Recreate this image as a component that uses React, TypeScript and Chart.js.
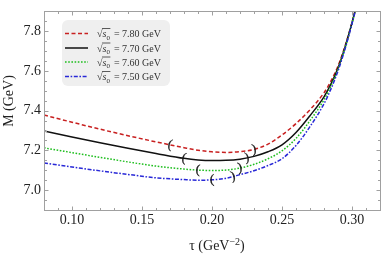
import React, { useEffect, useRef } from 'react';
import { Chart, registerables } from 'chart.js';

Chart.register(...registerables);

// ---- data ----
const tauValues = [0.08, 0.10, 0.12, 0.14, 0.16, 0.18, 0.19, 0.20, 0.21, 0.22, 0.23, 0.24, 0.25, 0.26, 0.27, 0.28, 0.285, 0.29, 0.295, 0.30, 0.305, 0.31];
const m780 = [7.378, 7.342, 7.307, 7.274, 7.243, 7.214, 7.201, 7.193, 7.190, 7.194, 7.205, 7.232, 7.278, 7.335, 7.405, 7.49, 7.55, 7.625, 7.725, 7.845, 7.98, 8.12];
const m770 = [7.298, 7.268, 7.239, 7.211, 7.185, 7.160, 7.152, 7.149, 7.150, 7.156, 7.170, 7.193, 7.228, 7.29, 7.375, 7.47, 7.535, 7.615, 7.72, 7.843, 7.98, 8.12];
const m760 = [7.213, 7.189, 7.165, 7.142, 7.121, 7.106, 7.101, 7.099, 7.101, 7.111, 7.13, 7.158, 7.198, 7.26, 7.35, 7.455, 7.525, 7.61, 7.715, 7.84, 7.978, 8.12];
const m750 = [7.137, 7.117, 7.097, 7.079, 7.062, 7.053, 7.050, 7.052, 7.060, 7.078, 7.098, 7.124, 7.158, 7.225, 7.32, 7.435, 7.51, 7.60, 7.71, 7.838, 7.976, 8.12];
const seriesLabels = ['7.80', '7.70', '7.60', '7.50'];
const windowLeft = [0.17, 0.18, 0.19, 0.20];
const windowRight = [0.23, 0.225, 0.22, 0.215];
const xTicks = [0.10, 0.15, 0.20, 0.25, 0.30];
const yTicks = [7.0, 7.2, 7.4, 7.6, 7.8];

// ---- styles ----
const FONT = "'Liberation Serif','Times New Roman','DejaVu Serif',serif";
const colors = ['rgb(200,32,32)', '#111111', 'rgb(30,190,30)', 'rgb(40,40,215)'];
const dashes = [[4, 2.5], [], [1.6, 1.6], [4, 1.6, 1.6, 1.6]];
const series = [m780, m770, m760, m750];

const decorPlugin = {
  id: 'decor',
  afterDatasetsDraw(chart: any) {
    const { ctx, scales } = chart;
    const x = scales.x, y = scales.y;
    ctx.save();
    ctx.fillStyle = '#1a1a1a';
    ctx.strokeStyle = '#1a1a1a';
    ctx.lineWidth = 0.3;
    ctx.font = `13px ${FONT}`;
    ctx.textAlign = 'center';
    ctx.textBaseline = 'middle';
    chart.data.datasets.forEach((ds: any, i: number) => {
      const pts = ds.data as { x: number; y: number }[];
      const marks: [number, string][] = [[windowLeft[i], '('], [windowRight[i], ')']];
      marks.forEach(([t, ch]) => {
        let k = 0;
        while (k < pts.length - 2 && pts[k + 1].x < t) k++;
        const p0 = pts[k], p1 = pts[k + 1];
        const f = (t - p0.x) / (p1.x - p0.x);
        const m = p0.y + f * (p1.y - p0.y);
        const px = x.getPixelForValue(t), py = y.getPixelForValue(m);
        const ang = Math.atan2(
          y.getPixelForValue(p1.y) - y.getPixelForValue(p0.y),
          x.getPixelForValue(p1.x) - x.getPixelForValue(p0.x)
        );
        ctx.save();
        ctx.translate(px, py);
        ctx.rotate(ang);
        ctx.fillText(ch, 0, 0);
        ctx.strokeText(ch, 0, 0);
        ctx.restore();
      });
    });
    ctx.restore();
  },
  afterDraw(chart: any) {
    const { ctx, chartArea: a, scales } = chart;
    const x = scales.x, y = scales.y;
    ctx.save();
    // frame
    const L = Math.round(a.left) + 0.5, R = Math.round(a.right) + 0.5;
    const T = Math.round(a.top) + 0.5, B = Math.round(a.bottom) + 0.5;
    ctx.strokeStyle = '#a0a0a0';
    ctx.lineWidth = 1;
    ctx.strokeRect(L, T, R - L, B - T);
    // ticks
    ctx.beginPath();
    for (let k = 8; k <= 32; k++) {
      const v = k / 100;
      const len = k % 5 === 0 ? 4 : 2.5;
      const px = Math.round(x.getPixelForValue(v)) + 0.5;
      ctx.moveTo(px, B); ctx.lineTo(px, B - len);
      ctx.moveTo(px, T); ctx.lineTo(px, T + len);
    }
    for (let k = 138; k <= 158; k++) {
      const v = k * 0.05;
      const len = k % 4 === 0 ? 4 : 2.5;
      const py = Math.round(y.getPixelForValue(v)) + 0.5;
      ctx.moveTo(L, py); ctx.lineTo(L + len, py);
      ctx.moveTo(R, py); ctx.lineTo(R - len, py);
    }
    ctx.stroke();

    // axis titles
    ctx.fillStyle = '#222';
    ctx.textBaseline = 'alphabetic';
    ctx.textAlign = 'left';
    const big = `14px ${FONT}`, small = `10px ${FONT}`;
    ctx.font = big;
    const w1 = ctx.measureText('τ (GeV').width;
    const w3 = ctx.measureText(')').width;
    ctx.font = small;
    const w2 = ctx.measureText('−2').width;
    const total = w1 + w2 + w3;
    let cx = 217 - total / 2;
    const base = 250;
    ctx.font = big; ctx.fillText('τ (GeV', cx, base); cx += w1;
    ctx.font = small; ctx.fillText('−2', cx, base - 5); cx += w2;
    ctx.font = big; ctx.fillText(')', cx, base);

    ctx.save();
    ctx.translate(9, 101);
    ctx.rotate(-Math.PI / 2);
    ctx.textAlign = 'center';
    ctx.textBaseline = 'middle';
    ctx.font = big;
    ctx.fillText('M (GeV)', 0, 0);
    ctx.restore();

    // legend
    ctx.fillStyle = '#efefef';
    ctx.beginPath();
    (ctx as any).roundRect(62, 20, 108, 66, 6);
    ctx.fill();
    const rows = [33.5, 48, 62, 76.5];
    rows.forEach((ry, i) => {
      ctx.save();
      ctx.strokeStyle = colors[i];
      ctx.lineWidth = 1.5;
      ctx.setLineDash(dashes[i]);
      ctx.beginPath();
      ctx.moveTo(65, ry); ctx.lineTo(88, ry);
      ctx.stroke();
      ctx.restore();

      ctx.fillStyle = '#333';
      const b = ry + 3.5;
      let tx = 97;
      ctx.font = `10px ${FONT}`;
      ctx.fillText('√', tx, b);
      const sw = ctx.measureText('√').width;
      tx += sw;
      const ox = tx - 0.5;
      ctx.font = `italic 10px ${FONT}`;
      ctx.fillText('s', tx, b);
      tx += ctx.measureText('s').width;
      ctx.font = `7px ${FONT}`;
      ctx.fillText('0', tx, b + 2.5);
      tx += ctx.measureText('0').width + 0.5;
      ctx.strokeStyle = '#333';
      ctx.lineWidth = 0.8;
      ctx.beginPath();
      ctx.moveTo(ox, b - 8.5); ctx.lineTo(tx, b - 8.5);
      ctx.stroke();
      ctx.font = `10px ${FONT}`;
      ctx.fillText(' = ' + seriesLabels[i] + ' GeV', tx + 1, b);
    });
    ctx.restore();
  },
};

export default function App() {
  const ref = useRef<HTMLCanvasElement>(null);
  useEffect(() => {
    if (!ref.current) return;
    const datasets = series.map((s, i) => ({
      label: seriesLabels[i],
      data: tauValues.map((t, k) => ({ x: t, y: s[k] })),
      borderColor: colors[i],
      borderWidth: 1.5,
      borderDash: dashes[i],
      pointRadius: 0,
      fill: false,
      cubicInterpolationMode: 'monotone' as const,
      order: 3 - i,
    }));
    const chart = new Chart(ref.current, {
      type: 'line',
      data: { datasets },
      options: {
        animation: false,
        responsive: false,
        devicePixelRatio: 1,
        layout: { padding: { left: 0, right: 2, top: 1, bottom: 0 } },
        plugins: { legend: { display: false }, tooltip: { enabled: false } },
        scales: {
          x: {
            type: 'linear',
            min: 0.08,
            max: 0.32,
            grid: { display: false, drawTicks: false },
            border: { display: false },
            afterBuildTicks: (sc: any) => { sc.ticks = xTicks.map((v) => ({ value: v })); },
            afterFit: (sc: any) => { sc.height = 44; },
            ticks: {
              font: { family: FONT, size: 14 },
              color: '#222',
              padding: 2,
              maxRotation: 0,
              autoSkip: false,
              callback: (v: any) => Number(v).toFixed(2),
            },
          },
          y: {
            type: 'linear',
            min: 6.9,
            max: 7.9,
            grid: { display: false, drawTicks: false },
            border: { display: false },
            afterBuildTicks: (sc: any) => { sc.ticks = yTicks.map((v) => ({ value: v })); },
            afterFit: (sc: any) => { sc.width = 44; },
            ticks: {
              font: { family: FONT, size: 14 },
              color: '#222',
              padding: 3,
              autoSkip: false,
              callback: (v: any) => Number(v).toFixed(1),
            },
          },
        },
      },
      plugins: [decorPlugin],
    });
    return () => chart.destroy();
  }, []);
  return (
    <div style={{ position: 'absolute', left: 0, top: 0, width: 382, height: 254, background: '#fff' }}>
      <canvas ref={ref} width={382} height={254} style={{ display: 'block', width: 382, height: 254 }} />
    </div>
  );
}
